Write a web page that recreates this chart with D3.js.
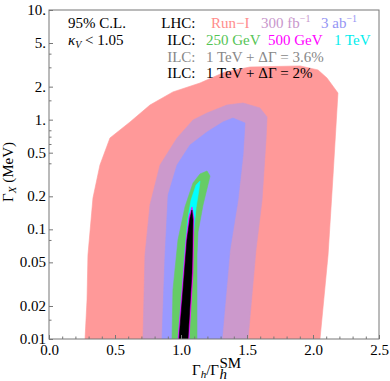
<!DOCTYPE html>
<html lang="en">
<head>
<meta charset="utf-8">
<style>
  body { margin: 0; background: #fff; }
  text { font-family: "Liberation Serif", "DejaVu Serif", serif; font-size: 15px; }
</style>
</head>
<body>
<script src="https://cdn.jsdelivr.net/npm/d3@7"></script>
<script>
// contour outlines, [Gamma_h / Gamma_h^SM, Gamma_X in MeV]
var runI = [[0.273,0.01],[0.288,0.0227],[0.295,0.0583],[0.333,0.193],[0.386,0.386],[0.462,0.681],
  [0.614,0.953],[0.765,1.36],[0.939,1.79],[1.144,2.16],[1.333,2.72],[1.523,3.02],[1.902,3.09],
  [2.038,2.84],[2.106,2.40],[2.189,1.75],[2.152,0.313],[2.114,0.0583],[2.053,0.01]];
var lhc300 = [[0.712,0.01],[0.727,0.0583],[0.765,0.167],[0.841,0.386],[0.970,0.681],[1.091,0.993],
  [1.197,1.15],[1.348,1.36],[1.470,1.42],[1.598,1.28],[1.652,1.06],[1.644,0.653],[1.614,0.185],
  [1.568,0.0649],[1.508,0.01]];
var lhc3000 = [[0.856,0.01],[0.879,0.0583],[0.902,0.206],[0.970,0.386],[1.068,0.587],[1.197,0.772],
  [1.318,0.953],[1.394,1.035],[1.485,0.933],[1.470,0.476],[1.432,0.185],[1.371,0.0649],[1.311,0.01]];
var ilc250 = [[0.932,0.01],[0.939,0.028],[0.977,0.080],[1.030,0.160],[1.091,0.265],[1.144,0.320],
  [1.197,0.340],[1.220,0.306],[1.167,0.167],[1.129,0.0946],[1.121,0.0583],[1.121,0.01]];
var ilc1000 = [[0.977,0.01],[1.008,0.028],[1.030,0.0649],[1.050,0.122],[1.076,0.185],[1.114,0.254],
  [1.144,0.276],[1.136,0.229],[1.114,0.157],[1.091,0.080],[1.076,0.028],[1.061,0.01]];
var ilc500 = [[0.977,0.01],[1.008,0.028],[1.038,0.080],[1.061,0.132],[1.083,0.160],[1.098,0.127],
  [1.091,0.040],[1.061,0.01]];
var ilc1000dG2 = [[0.985,0.01],[1.015,0.028],[1.045,0.080],[1.068,0.127],[1.083,0.150],[1.091,0.122],
  [1.083,0.040],[1.053,0.01]];

var xTicks = [0, 0.5, 1, 1.5, 2, 2.5];
var xTickLabels = ["0.0", "0.5", "1.0", "1.5", "2.0", "2.5"];
var yTicks = [10, 5, 2, 1, 0.5, 0.2, 0.1, 0.05, 0.02, 0.01];
var yTickLabels = ["10.", "5.", "2.", "1.", "0.5", "0.2", "0.1", "0.05", "0.02", "0.01"];
var yMinor = [4, 3, 1.5, 0.8, 0.7, 0.6, 0.4, 0.08, 0.015];

var regions = [
  {pts: runI, color: "#ff9999"},
  {pts: lhc300, color: "#cc99cc"},
  {pts: lhc3000, color: "#9999ff"},
  {pts: ilc250, color: "#66cc66"},
  {pts: ilc1000, color: "#00ffff"},
  {pts: ilc500, color: "#ff00ff"},
  {pts: ilc1000dG2, color: "#000000"}
];

var W = 390, H = 381;
var m = {left: 49, right: 379, top: 10, bottom: 339};

var svg = d3.select("body").append("svg").attr("width", W).attr("height", H);

var x = d3.scaleLinear().domain([0, 2.5]).range([m.left, m.right]);
var y = d3.scaleLog().domain([0.01, 10]).range([m.bottom, m.top]);

svg.append("clipPath").attr("id", "clip")
  .append("rect").attr("x", m.left).attr("y", m.top)
  .attr("width", m.right - m.left).attr("height", m.bottom - m.top);

var line = d3.line()
  .x(function(d) { return x(d[0]); })
  .y(function(d) { return y(d[1]); })
  .curve(d3.curveLinearClosed);

// contour fills
svg.append("g").attr("clip-path", "url(#clip)")
  .selectAll("path")
  .data(regions)
  .enter()
  .append("path")
  .attr("d", function(d) { return line(d.pts); })
  .attr("fill", function(d) { return d.color; })
  .attr("stroke", function(d) { return d.color; })
  .attr("stroke-width", 0.6);

// axes, ticks pointing into the frame
var xAxis = svg.append("g").attr("transform", "translate(0," + m.bottom + ")")
  .call(d3.axisBottom(x).tickValues(xTicks).tickSize(-4).tickPadding(8)
    .tickFormat(function(d, i) { return xTickLabels[i]; }));
svg.append("g").attr("transform", "translate(0," + m.bottom + ")")
  .call(d3.axisBottom(x).tickValues(d3.range(0.1, 2.5, 0.1)).tickSize(-2.5).tickFormat(""));

var yAxis = svg.append("g").attr("transform", "translate(" + m.left + ",0)")
  .call(d3.axisLeft(y).tickValues(yTicks).tickSize(-4).tickPadding(6)
    .tickFormat(function(d, i) { return yTickLabels[i]; }));
svg.append("g").attr("transform", "translate(" + m.left + ",0)")
  .call(d3.axisLeft(y).tickValues(yMinor).tickSize(-2.5).tickFormat(""));

svg.selectAll(".tick line").attr("stroke", "#777");
svg.selectAll(".domain").remove();
svg.selectAll(".tick text").attr("font-family", "Liberation Serif, serif").attr("font-size", 15).attr("fill", "#000");
xAxis.selectAll(".tick text").attr("dy", "0.71em").attr("y", 5);
yAxis.selectAll(".tick text").attr("dy", "0.3em").attr("x", -3);

// frame
svg.append("rect").attr("x", m.left).attr("y", m.top)
  .attr("width", m.right - m.left).attr("height", m.bottom - m.top)
  .attr("fill", "none").attr("stroke", "#777").attr("stroke-width", 1);

// axis titles
var xl = svg.append("text").attr("x", 192).attr("y", 375);
xl.append("tspan").text("Γ");
xl.append("tspan").attr("font-style", "italic").attr("font-size", 11).attr("dy", 3).text("h");
xl.append("tspan").attr("dy", -3).text("/Γ");
var xEnd = 192 + xl.node().getComputedTextLength();
svg.append("text").attr("x", xEnd + 0.5).attr("y", 368).attr("font-size", 9).text("SM");
svg.append("text").attr("x", xEnd + 0.5).attr("y", 378.5).attr("font-size", 11).attr("font-style", "italic").text("h");

var yl = svg.append("text").attr("transform", "translate(13,172) rotate(-90)").attr("text-anchor", "middle");
yl.append("tspan").text("Γ");
yl.append("tspan").attr("font-style", "italic").attr("font-size", 11).attr("dy", 3).text("X");
yl.append("tspan").attr("dy", -3).text(" (MeV)");

// legend
svg.append("text").attr("x", 68).attr("y", 28).text("95% C.L.");
var kv = svg.append("text").attr("x", 68).attr("y", 45);
kv.append("tspan").attr("font-style", "italic").text("κ");
kv.append("tspan").attr("font-style", "italic").attr("font-size", 10).attr("dy", 3).text("V");
kv.append("tspan").attr("dy", -3).text(" < 1.05");

var heads = [["LHC:", 28, "#000"], ["ILC:", 45, "#000"], ["ILC:", 61.5, "#888"], ["ILC:", 78, "#000"]];
heads.forEach(function(h) {
  svg.append("text").attr("x", 195.5).attr("y", h[1]).attr("text-anchor", "end").attr("fill", h[2]).text(h[0]);
});

function supText(xp, yp, base, sup, color) {
  var t = svg.append("text").attr("x", xp).attr("y", yp).attr("fill", color);
  t.append("tspan").text(base);
  if (sup) t.append("tspan").attr("font-size", 10).attr("dy", -6).text(sup);
}
supText(211, 28, "Run\u2212I", null, "#ff8c8c");
supText(261, 28, "300 fb", "\u22121", "#c896cc");
supText(321, 28, "3 ab", "\u22121", "#9494f4");
supText(206, 45, "250 GeV", null, "#55c455");
supText(268, 45, "500 GeV", null, "#ff00ff");
supText(334, 45, "1 TeV", null, "#00eeee");
supText(206, 61.5, "1 TeV + ΔΓ = 3.6%", null, "#888");
supText(206, 78, "1 TeV + ΔΓ = 2%", null, "#000");
</script>
</body>
</html>
